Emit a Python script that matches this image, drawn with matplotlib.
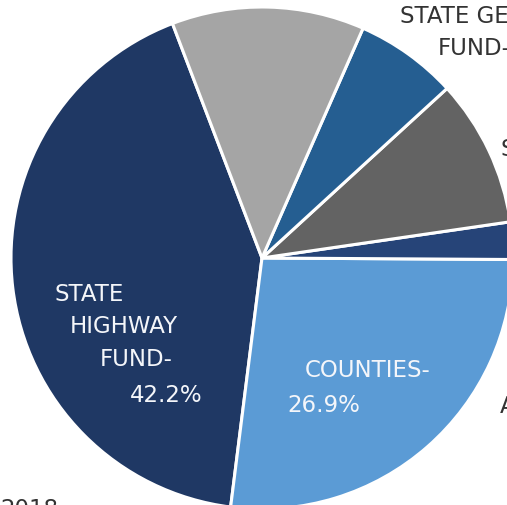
import matplotlib
matplotlib.use("Agg")
import matplotlib.pyplot as plt

# Data (percent shares), drawn counter-clockwise starting at the Highway Fund slice
categories = ["State Highway Fund", "Counties", "Other A", "Other S", "State General Fund", "Other"]
values = [42.2, 26.9, 2.4, 9.5, 6.6, 12.4]
colors = ["#1f3864", "#5b9bd5", "#264478", "#636363", "#255e91", "#a5a5a5"]

W, H = 507, 505
fig = plt.figure(figsize=(W / 100, H / 100), dpi=100)
ax = fig.add_axes([0, 0, 1, 1])

cx, cy, r = 262, H - 258, 251
ax.pie(values, colors=colors, startangle=110.9, counterclock=True,
       center=(cx, cy), radius=r, frame=True,
       wedgeprops=dict(edgecolor="white", linewidth=2.2))
ax.set_xlim(0, W)
ax.set_ylim(0, H)
ax.set_aspect("equal")
ax.axis("off")

font = dict(family=["DejaVu Sans"], fontweight="normal", fontsize=16.5)
inner = "#f4f6fa"
outer = "#333333"

def txt(x, y, s, color, **kw):
    ax.text(x, H - y, s, color=color, ha="left", va="baseline", **font, **kw)

# Highway fund label (staggered lines)
txt(55, 301, "STATE", inner)
txt(70, 333, "HIGHWAY", inner)
txt(100, 366, "FUND-", inner)
txt(130, 402, "42.2%", inner)

# Counties label
txt(305, 377, "COUNTIES-", inner)
txt(287, 412, "26.9%", inner)

# Outer labels (cut by the figure edge, as in the reference)
txt(400, 23, "STATE GENERAL", outer)
txt(438, 55, "FUND-", outer)
txt(500, 156, "S", outer)
txt(500, 413, "A", outer)
txt(0, 516, "2018", outer)

fig.savefig("out.png", dpi=100)
